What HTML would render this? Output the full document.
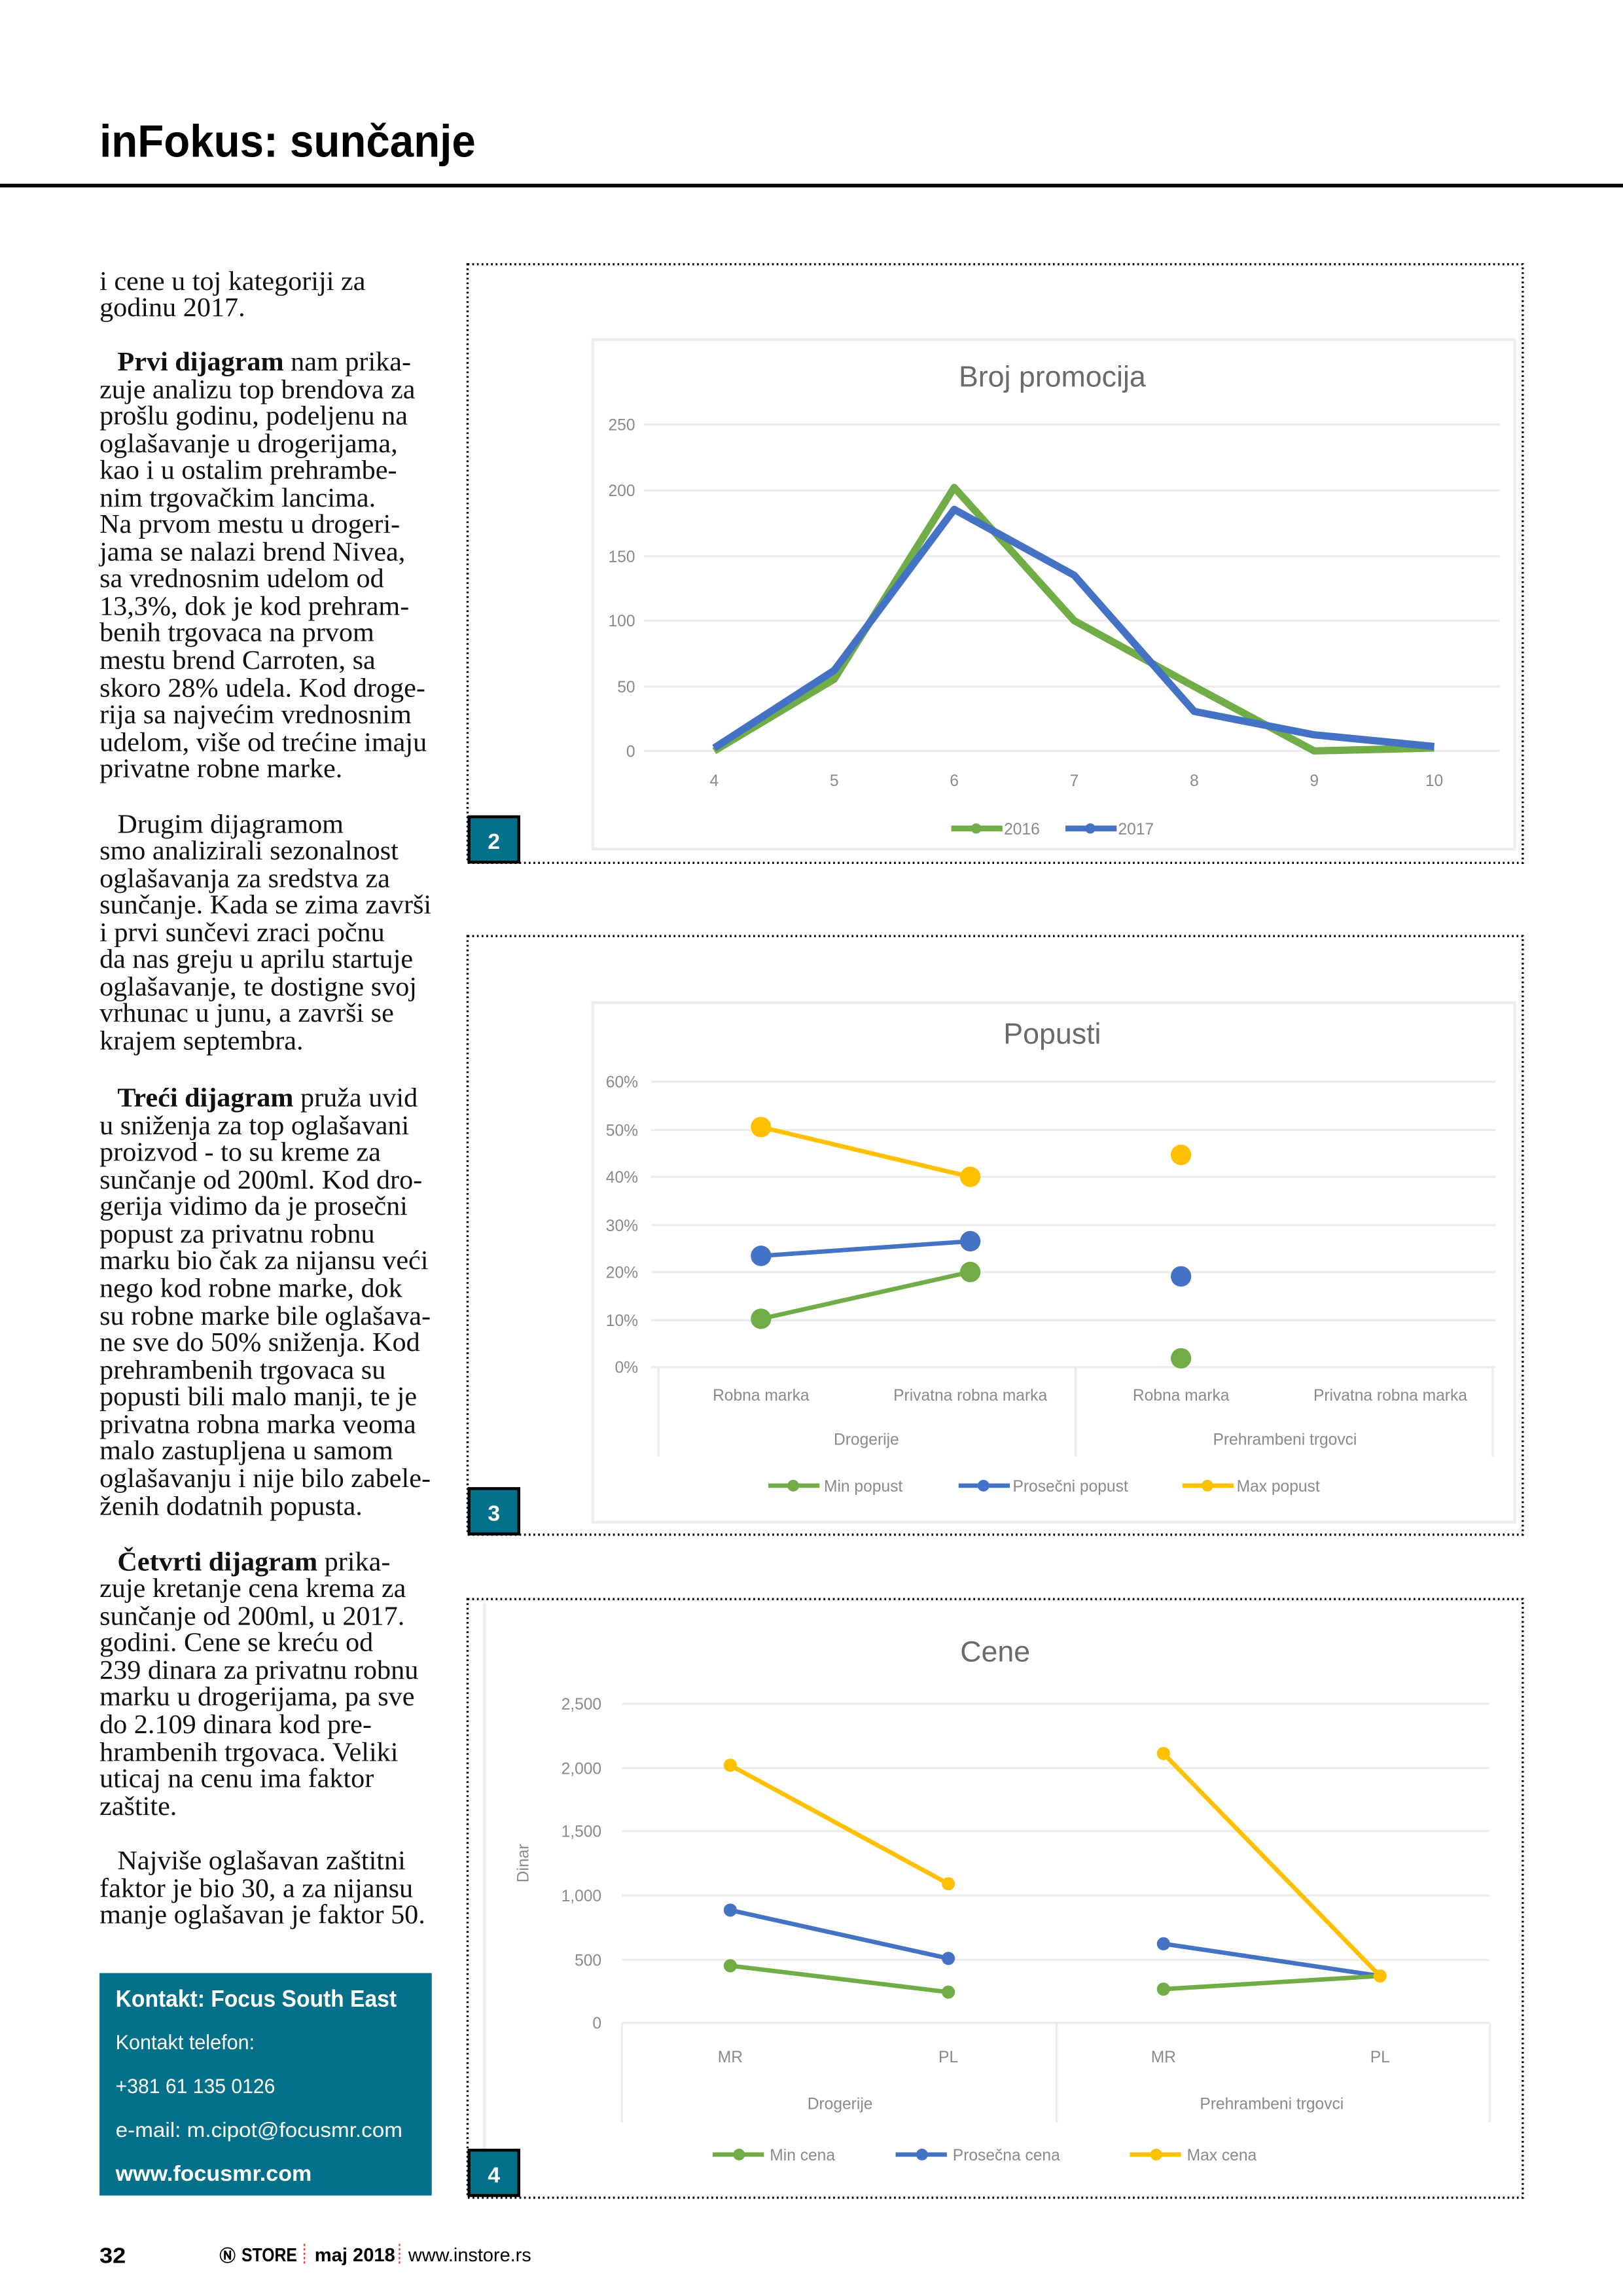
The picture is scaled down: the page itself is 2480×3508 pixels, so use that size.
<!DOCTYPE html>
<html><head><meta charset="utf-8"><style>
html,body{margin:0;padding:0;background:#fff}
svg{display:block}
.b{font-family:"Liberation Serif",serif;font-size:18.5px;fill:#111}
.ax{font-family:"Liberation Sans",sans-serif;font-size:11px;fill:#8a8a8a}
.tt{font-family:"Liberation Sans",sans-serif;font-size:20px;fill:#6a6a6a}
.c{font-family:"Liberation Sans",sans-serif;fill:#fff}
</style></head><body>
<svg width="2480" height="3508" viewBox="0 0 1109 1568.6" xmlns="http://www.w3.org/2000/svg">
<rect width="1109" height="1568.6" fill="#fff"/>
<text x="68" y="107" font-family="Liberation Sans,sans-serif" font-weight="bold" font-size="31" textLength="257" lengthAdjust="spacingAndGlyphs" fill="#000">inFokus: sunčanje</text>
<rect x="0" y="125.5" width="1109" height="2.5" fill="#000"/>

<g class="b" transform="translate(68,0) scale(1.02,1)">
<text x="0" y="198">i cene u toj kategoriji za</text>
<text x="0" y="216">godinu 2017.</text>
<text x="12" y="253"><tspan font-weight="bold">Prvi dijagram</tspan> nam prika-</text>
<text x="0" y="272">zuje analizu top brendova za</text>
<text x="0" y="290">prošlu godinu, podeljenu na</text>
<text x="0" y="309">oglašavanje u drogerijama,</text>
<text x="0" y="327">kao i u ostalim prehrambe-</text>
<text x="0" y="346">nim trgovačkim lancima.</text>
<text x="0" y="364">Na prvom mestu u drogeri-</text>
<text x="0" y="383">jama se nalazi brend Nivea,</text>
<text x="0" y="401">sa vrednosnim udelom od</text>
<text x="0" y="420">13,3%, dok je kod prehram-</text>
<text x="0" y="438">benih trgovaca na prvom</text>
<text x="0" y="457">mestu brend Carroten, sa</text>
<text x="0" y="476">skoro 28% udela. Kod droge-</text>
<text x="0" y="494">rija sa najvećim vrednosnim</text>
<text x="0" y="513">udelom, više od trećine imaju</text>
<text x="0" y="531">privatne robne marke.</text>
<text x="12" y="569">Drugim dijagramom</text>
<text x="0" y="587">smo analizirali sezonalnost</text>
<text x="0" y="606">oglašavanja za sredstva za</text>
<text x="0" y="624">sunčanje. Kada se zima završi</text>
<text x="0" y="643">i prvi sunčevi zraci počnu</text>
<text x="0" y="661">da nas greju u aprilu startuje</text>
<text x="0" y="680">oglašavanje, te dostigne svoj</text>
<text x="0" y="698">vrhunac u junu, a završi se</text>
<text x="0" y="717">krajem septembra.</text>
<text x="12" y="756"><tspan font-weight="bold">Treći dijagram</tspan> pruža uvid</text>
<text x="0" y="775">u sniženja za top oglašavani</text>
<text x="0" y="793">proizvod -  to su kreme za</text>
<text x="0" y="812">sunčanje od 200ml. Kod dro-</text>
<text x="0" y="830">gerija vidimo da je prosečni</text>
<text x="0" y="849">popust za privatnu robnu</text>
<text x="0" y="867">marku bio čak za nijansu veći</text>
<text x="0" y="886">nego kod robne marke, dok</text>
<text x="0" y="905">su robne marke bile oglašava-</text>
<text x="0" y="923">ne sve do 50% sniženja. Kod</text>
<text x="0" y="942">prehrambenih trgovaca su</text>
<text x="0" y="960">popusti bili malo manji, te je</text>
<text x="0" y="979">privatna robna marka veoma</text>
<text x="0" y="997">malo zastupljena u samom</text>
<text x="0" y="1016">oglašavanju i nije bilo zabele-</text>
<text x="0" y="1035">ženih dodatnih popusta.</text>
<text x="12" y="1073"><tspan font-weight="bold">Četvrti dijagram</tspan> prika-</text>
<text x="0" y="1091">zuje kretanje cena krema za</text>
<text x="0" y="1110">sunčanje od 200ml, u 2017.</text>
<text x="0" y="1128">godini. Cene se kreću od</text>
<text x="0" y="1147">239 dinara za privatnu robnu</text>
<text x="0" y="1165">marku u drogerijama, pa sve</text>
<text x="0" y="1184">do 2.109 dinara kod pre-</text>
<text x="0" y="1203">hrambenih trgovaca. Veliki</text>
<text x="0" y="1221">uticaj na cenu ima faktor</text>
<text x="0" y="1240">zaštite.</text>
<text x="12" y="1277">Najviše oglašavan zaštitni</text>
<text x="0" y="1296">faktor je bio 30, a za nijansu</text>
<text x="0" y="1314">manje oglašavan je faktor 50.</text>
</g>

<rect x="68" y="1348" width="227" height="152" fill="#057089"/>
<text class="c" x="79" y="1371" font-size="16" font-weight="bold" textLength="192" lengthAdjust="spacingAndGlyphs">Kontakt: Focus South East</text>
<text class="c" x="79" y="1400" font-size="14" textLength="95" lengthAdjust="spacingAndGlyphs">Kontakt telefon:</text>
<text class="c" x="79" y="1430" font-size="14" textLength="109" lengthAdjust="spacingAndGlyphs">+381 61 135 0126</text>
<text class="c" x="79" y="1460" font-size="14" textLength="196" lengthAdjust="spacingAndGlyphs">e-mail: m.cipot@focusmr.com</text>
<text class="c" x="79" y="1490" font-size="15" font-weight="bold" textLength="134" lengthAdjust="spacingAndGlyphs">www.focusmr.com</text>

<g font-family="Liberation Sans,sans-serif" fill="#000">
<text x="68" y="1546" font-size="15" font-weight="bold" textLength="18" lengthAdjust="spacingAndGlyphs">32</text>
<text x="150" y="1545" font-size="11" font-weight="bold">Ⓝ</text>
<text x="165" y="1545" font-size="13" font-weight="bold" textLength="38" lengthAdjust="spacingAndGlyphs">STORE</text>
<line x1="208" y1="1533" x2="208" y2="1547" stroke="#e33" stroke-width="1" stroke-dasharray="1.5 1.5"/>
<text x="215" y="1545" font-size="13" font-weight="bold" textLength="55" lengthAdjust="spacingAndGlyphs">maj 2018</text>
<line x1="273" y1="1533" x2="273" y2="1547" stroke="#e33" stroke-width="1" stroke-dasharray="1.5 1.5"/>
<text x="279" y="1545" font-size="13" textLength="84" lengthAdjust="spacingAndGlyphs">www.instore.rs</text>
</g>

<!-- Chart 2 -->
<rect x="319.5" y="180.5" width="721" height="409" fill="none" stroke="#000" stroke-width="1.5" stroke-dasharray="1.2 2"/>
<rect x="405" y="232" width="630" height="348" fill="none" stroke="#eee" stroke-width="2"/>
<text class="tt" x="719" y="264" text-anchor="middle">Broj promocija</text>
<g stroke="#ececec" stroke-width="1.5">
<line x1="440" y1="290" x2="1025" y2="290"/><line x1="440" y1="335" x2="1025" y2="335"/><line x1="440" y1="380" x2="1025" y2="380"/><line x1="440" y1="424" x2="1025" y2="424"/><line x1="440" y1="469" x2="1025" y2="469"/><line x1="440" y1="513" x2="1025" y2="513"/>
</g>
<g class="ax" text-anchor="end">
<text x="434" y="294">250</text><text x="434" y="339">200</text><text x="434" y="384">150</text><text x="434" y="428">100</text><text x="434" y="473">50</text><text x="434" y="517">0</text>
</g>
<g class="ax" text-anchor="middle">
<text x="488" y="537">4</text><text x="570" y="537">5</text><text x="652" y="537">6</text><text x="734" y="537">7</text><text x="816" y="537">8</text><text x="898" y="537">9</text><text x="980" y="537">10</text>
</g>
<polyline points="488,513 570,464 652,333 734,424 816,469 898,513 980,511" fill="none" stroke="#70ad47" stroke-width="5" stroke-linejoin="round"/>
<polyline points="488,511 570,458 652,348 734,393 816,486 898,502 980,510" fill="none" stroke="#4472c4" stroke-width="5" stroke-linejoin="round"/>
<line x1="650" y1="566" x2="685" y2="566" stroke="#70ad47" stroke-width="4"/><circle cx="667" cy="566" r="3.5" fill="#70ad47"/>
<text class="ax" x="686" y="570">2016</text>
<line x1="728" y1="566" x2="763" y2="566" stroke="#4472c4" stroke-width="4"/><circle cx="745" cy="566" r="3.5" fill="#4472c4"/>
<text class="ax" x="764" y="570">2017</text>
<rect x="320.5" y="558" width="34" height="31" fill="#057089" stroke="#000" stroke-width="2"/>
<text class="c" x="337.5" y="580" font-size="15" font-weight="bold" text-anchor="middle">2</text>

<!-- Chart 3 -->
<rect x="319.5" y="639.5" width="721" height="409" fill="none" stroke="#000" stroke-width="1.5" stroke-dasharray="1.2 2"/>
<rect x="405" y="685" width="630" height="355" fill="none" stroke="#eee" stroke-width="2"/>
<text class="tt" x="719" y="713" text-anchor="middle">Popusti</text>
<g stroke="#ececec" stroke-width="1.5">
<line x1="445" y1="739" x2="1022" y2="739"/><line x1="445" y1="772" x2="1022" y2="772"/><line x1="445" y1="804" x2="1022" y2="804"/><line x1="445" y1="837" x2="1022" y2="837"/><line x1="445" y1="869" x2="1022" y2="869"/><line x1="445" y1="902" x2="1022" y2="902"/><line x1="445" y1="934" x2="1022" y2="934"/>
<line x1="450" y1="934" x2="450" y2="995"/><line x1="735" y1="934" x2="735" y2="995"/><line x1="1020" y1="934" x2="1020" y2="995"/>
</g>
<g class="ax" text-anchor="end">
<text x="436" y="743">60%</text><text x="436" y="776">50%</text><text x="436" y="808">40%</text><text x="436" y="841">30%</text><text x="436" y="873">20%</text><text x="436" y="906">10%</text><text x="436" y="938">0%</text>
</g>
<g class="ax" text-anchor="middle">
<text x="520" y="957">Robna marka</text><text x="663" y="957">Privatna robna marka</text><text x="807" y="957">Robna marka</text><text x="950" y="957">Privatna robna marka</text>
<text x="592" y="987">Drogerije</text><text x="878" y="987">Prehrambeni trgovci</text>
</g>
<line x1="520" y1="901" x2="663" y2="869" stroke="#70ad47" stroke-width="3"/>
<line x1="520" y1="858" x2="663" y2="848" stroke="#4472c4" stroke-width="3"/>
<line x1="520" y1="770" x2="663" y2="804" stroke="#ffc000" stroke-width="3"/>
<g fill="#70ad47"><circle cx="520" cy="901" r="7"/><circle cx="663" cy="869" r="7"/><circle cx="807" cy="928" r="7"/></g>
<g fill="#4472c4"><circle cx="520" cy="858" r="7"/><circle cx="663" cy="848" r="7"/><circle cx="807" cy="872" r="7"/></g>
<g fill="#ffc000"><circle cx="520" cy="770" r="7"/><circle cx="663" cy="804" r="7"/><circle cx="807" cy="789" r="7"/></g>
<line x1="525" y1="1015" x2="560" y2="1015" stroke="#70ad47" stroke-width="3"/><circle cx="542" cy="1015" r="4" fill="#70ad47"/>
<text class="ax" x="563" y="1019">Min popust</text>
<line x1="655" y1="1015" x2="690" y2="1015" stroke="#4472c4" stroke-width="3"/><circle cx="672" cy="1015" r="4" fill="#4472c4"/>
<text class="ax" x="692" y="1019">Prosečni popust</text>
<line x1="808" y1="1015" x2="843" y2="1015" stroke="#ffc000" stroke-width="3"/><circle cx="825" cy="1015" r="4" fill="#ffc000"/>
<text class="ax" x="845" y="1019">Max popust</text>
<rect x="320.5" y="1017" width="34" height="31" fill="#057089" stroke="#000" stroke-width="2"/>
<text class="c" x="337.5" y="1039" font-size="15" font-weight="bold" text-anchor="middle">3</text>

<!-- Chart 4 -->
<rect x="319.5" y="1092.5" width="721" height="409" fill="none" stroke="#000" stroke-width="1.5" stroke-dasharray="1.2 2"/>
<line x1="331" y1="1095" x2="331" y2="1500" stroke="#eee" stroke-width="2"/>
<text class="tt" x="680" y="1135" text-anchor="middle">Cene</text>
<g stroke="#ececec" stroke-width="1.5">
<line x1="425" y1="1164" x2="1018" y2="1164"/><line x1="425" y1="1208" x2="1018" y2="1208"/><line x1="425" y1="1251" x2="1018" y2="1251"/><line x1="425" y1="1295" x2="1018" y2="1295"/><line x1="425" y1="1339" x2="1018" y2="1339"/><line x1="425" y1="1382" x2="1018" y2="1382"/>
<line x1="425" y1="1382" x2="425" y2="1450"/><line x1="722" y1="1382" x2="722" y2="1450"/><line x1="1018" y1="1382" x2="1018" y2="1450"/>
</g>
<g class="ax" text-anchor="end" font-size="12">
<text x="411" y="1168">2,500</text><text x="411" y="1212">2,000</text><text x="411" y="1255">1,500</text><text x="411" y="1299">1,000</text><text x="411" y="1343">500</text><text x="411" y="1386">0</text>
</g>
<text class="ax" font-size="13" transform="translate(361,1273) rotate(-90)" text-anchor="middle">Dinar</text>
<g class="ax" text-anchor="middle" font-size="12">
<text x="499" y="1409">MR</text><text x="648" y="1409">PL</text><text x="795" y="1409">MR</text><text x="943" y="1409">PL</text>
<text x="574" y="1441">Drogerije</text><text x="869" y="1441">Prehrambeni trgovci</text>
</g>
<line x1="499" y1="1206" x2="648" y2="1287" stroke="#ffc000" stroke-width="3"/>
<line x1="795" y1="1198" x2="943" y2="1350" stroke="#ffc000" stroke-width="3"/>
<line x1="499" y1="1305" x2="648" y2="1338" stroke="#4472c4" stroke-width="3"/>
<line x1="795" y1="1328" x2="943" y2="1350" stroke="#4472c4" stroke-width="3"/>
<line x1="499" y1="1343" x2="648" y2="1361" stroke="#70ad47" stroke-width="3"/>
<line x1="795" y1="1359" x2="943" y2="1350" stroke="#70ad47" stroke-width="3"/>
<g fill="#ffc000"><circle cx="499" cy="1206" r="4.5"/><circle cx="648" cy="1287" r="4.5"/><circle cx="795" cy="1198" r="4.5"/></g>
<g fill="#4472c4"><circle cx="499" cy="1305" r="4.5"/><circle cx="648" cy="1338" r="4.5"/><circle cx="795" cy="1328" r="4.5"/></g>
<g fill="#70ad47"><circle cx="499" cy="1343" r="4.5"/><circle cx="648" cy="1361" r="4.5"/><circle cx="795" cy="1359" r="4.5"/></g>
<circle cx="943" cy="1350" r="4.5" fill="#ffc000"/>
<line x1="487" y1="1472" x2="522" y2="1472" stroke="#70ad47" stroke-width="3"/><circle cx="505" cy="1472" r="4" fill="#70ad47"/>
<text class="ax" x="526" y="1476" font-size="12">Min cena</text>
<line x1="612" y1="1472" x2="647" y2="1472" stroke="#4472c4" stroke-width="3"/><circle cx="630" cy="1472" r="4" fill="#4472c4"/>
<text class="ax" x="651" y="1476" font-size="12">Prosečna cena</text>
<line x1="772" y1="1472" x2="807" y2="1472" stroke="#ffc000" stroke-width="3"/><circle cx="790" cy="1472" r="4" fill="#ffc000"/>
<text class="ax" x="811" y="1476" font-size="12">Max cena</text>
<rect x="320.5" y="1469" width="34" height="31" fill="#057089" stroke="#000" stroke-width="2"/>
<text class="c" x="337.5" y="1491" font-size="15" font-weight="bold" text-anchor="middle">4</text>
</svg>
</body></html>
